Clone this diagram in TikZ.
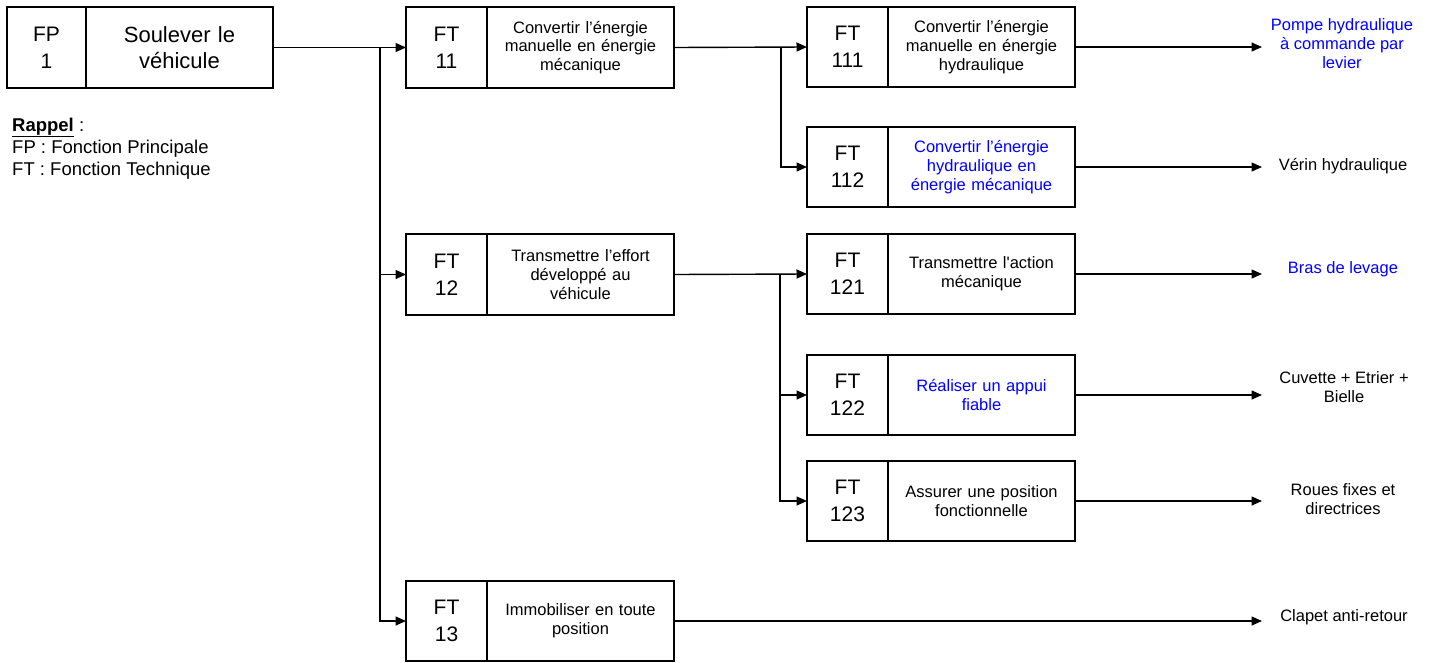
\documentclass[tikz,border=0pt]{standalone}
\usepackage{fontspec}
\newfontfamily\arial{Liberation Sans}
\usetikzlibrary{arrows.meta}
\definecolor{fblue}{RGB}{0,0,255}
\begin{document}
\begin{tikzpicture}[x=1pt,y=-1pt,
  every node/.style={font=\arial},
  numbox/.style={draw, line width=1.8pt, minimum width=81pt, minimum height=81pt,
    inner sep=0pt, outer sep=0pt, anchor=north west, align=center,
    font=\arial\fontsize{21}{27}\selectfont},
  txtbox/.style={draw, line width=1.8pt, minimum width=187pt, minimum height=81pt,
    inner sep=0pt, outer sep=0pt, anchor=north west, align=center, text width=178pt,
    font=\arial\fontsize{16.5}{18.7}\selectfont},
  bigtxt/.style={font=\arial\fontsize{22}{26.5}\selectfont},
  outtxt/.style={align=center, inner sep=0pt, font=\arial\fontsize{16.5}{19}\selectfont},
  conn/.style={line width=1.4pt},
  arr/.style={line width=1.4pt, -{Triangle[length=10.5pt,width=9pt]}}
]
\useasboundingbox (0,0) rectangle (1432,662);

% FP 1
\node[numbox, minimum width=79pt] (nfp) at (7,7) {FP\\1};
\node[txtbox, bigtxt] (tfp) at (nfp.north east) {Soulever le\\véhicule};

% Rappel
\node[anchor=north west, align=left, inner sep=0pt, font=\arial\fontsize{18.5}{22}\selectfont] (rap) at (12,117.5)
  {\underline{\textbf{Rappel}} :\\FP : Fonction Principale\\FT : Fonction Technique};

% level 1
\node[numbox] (n11) at (406,7) {FT\\11};
\node[txtbox] (t11) at (n11.north east) {Convertir l’énergie\\manuelle en énergie\\mécanique};
\node[numbox] (n12) at (406,234) {FT\\12};
\node[txtbox] (t12) at (n12.north east) {Transmettre l’effort\\développé au\\véhicule};
\node[numbox, minimum height=80pt] (n13) at (406,581) {FT\\13};
\node[txtbox, minimum height=80pt] (t13) at (n13.north east) {Immobiliser en toute\\position};

% level 2
\node[numbox, minimum height=80pt] (n111) at (807,7) {FT\\111};
\node[txtbox, minimum height=80pt] (t111) at (n111.north east) {Convertir l’énergie\\manuelle en énergie\\hydraulique};
\node[numbox, minimum height=80pt] (n112) at (807,127) {FT\\112};
\node[txtbox, minimum height=80pt, text=fblue] (t112) at (n112.north east) {Convertir l’énergie\\hydraulique en\\énergie mécanique};
\node[numbox, minimum height=80pt] (n121) at (807,234) {FT\\121};
\node[txtbox, minimum height=80pt] (t121) at (n121.north east) {Transmettre l'action\\mécanique};
\node[numbox, minimum height=80pt] (n122) at (807,355) {FT\\122};
\node[txtbox, minimum height=80pt, text=fblue] (t122) at (n122.north east) {Réaliser un appui\\fiable};
\node[numbox, minimum height=80pt] (n123) at (807,461) {FT\\123};
\node[txtbox, minimum height=80pt] (t123) at (n123.north east) {Assurer une position\\fonctionnelle};

% outputs
\node[outtxt, text=fblue] (r111) at (1342,44) {Pompe hydraulique\\à commande par\\levier};
\node[outtxt] (r112) at (1343,166) {Vérin hydraulique};
\node[outtxt, text=fblue] (r121) at (1343,269) {Bras de levage};
\node[outtxt] (r122) at (1344,387) {Cuvette + Etrier +\\Bielle};
\node[outtxt] (r123) at (1343,499) {Roues fixes et\\directrices};
\node[outtxt] (r13) at (1344,617) {Clapet anti-retour};

% junctions
\coordinate (j1) at (380,47.5);
\coordinate (j2) at (781,47);
\coordinate (j3) at (780,274);
\coordinate (tipx) at (1262,0);

% connectors level 1
\draw[arr] (tfp.east) -- (n11.west);
\draw[arr] (j1) |- (n13.west);
\draw[arr] (j1 |- n12.west) -- (n12.west);

% connectors level 2
\draw[arr] (t11.east) -- (n111.west);
\draw[arr] (j2) |- (n112.west);
\draw[arr] (t12.east) -- (n121.west);
\draw[arr] (j3) |- (n123.west);
\draw[arr] (j3 |- n122.west) -- (n122.west);

% outputs connectors
\draw[arr] (t111.east) -- (t111.east -| tipx);
\draw[arr] (t112.east) -- (t112.east -| tipx);
\draw[arr] (t121.east) -- (t121.east -| tipx);
\draw[arr] (t122.east) -- (t122.east -| tipx);
\draw[arr] (t123.east) -- (t123.east -| tipx);
\draw[arr] (t13.east) -- (t13.east -| tipx);
\end{tikzpicture}
\end{document}
